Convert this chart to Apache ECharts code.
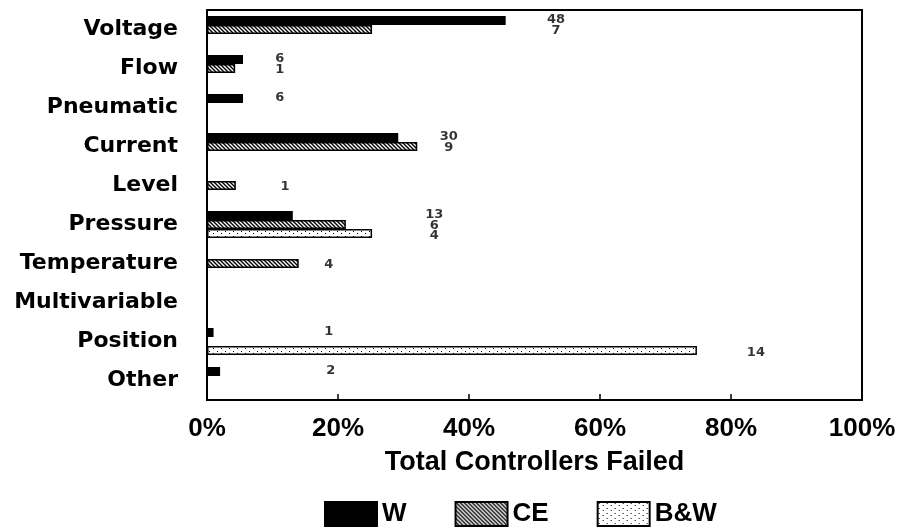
<!DOCTYPE html>
<html>
<head>
<meta charset="utf-8">
<script src="https://cdn.jsdelivr.net/npm/echarts@6/dist/echarts.min.js"></script>
<style>
  html, body { margin: 0; padding: 0; background: #fff; }
  #chart { width: 899px; height: 531px; }
</style>
</head>
<body>
<div id="chart"></div>
<script>
// categories (top to bottom)
const categories = ['Voltage', 'Flow', 'Pneumatic', 'Current', 'Level', 'Pressure', 'Temperature', 'Multivariable', 'Position', 'Other']
// % of each vendor's failed controllers
const wValues = [45.6, 5.5, 5.5, 29.2, 0, 13.1, 0, 0, 1.0, 2.0]
const ceValues = [25.2, 4.3, 0, 32.1, 4.4, 21.2, 14.0, 0, 0, 0]
const bwValues = [0, 0, 0, 0, 0, 25.2, 0, 0, 74.8, 0]
// number of controllers failed
const wCounts = [48, 6, 6, 30, null, 13, null, null, 1, 2]
const ceCounts = [7, 1, null, 9, 1, 6, 4, null, null, null]
const bwCounts = [null, null, null, null, null, 4, null, null, 14, null]
const xTicks = [0, 20, 40, 60, 80, 100]

// where the count column sits for each category (axis %)
const countColumnX = [53.3, 11.1, 11.1, 36.9, 11.9, 34.7, 18.6, 0, 18.6, 18.9]

const FONT = 'DejaVu Sans'
const FONT2 = 'Liberation Sans'

// hatch fill for CE
const makeHatch = () => {
  const c = document.createElement('canvas')
  c.width = 4
  c.height = 4
  const ctx = c.getContext('2d')
  ctx.fillStyle = '#fff'
  ctx.fillRect(0, 0, 4, 4)
  ctx.strokeStyle = '#000'
  ctx.lineWidth = 1.4
  ctx.beginPath()
  ctx.moveTo(-1, -1); ctx.lineTo(5, 5)
  ctx.moveTo(-1, 3); ctx.lineTo(1, 5)
  ctx.moveTo(3, -1); ctx.lineTo(5, 1)
  ctx.stroke()
  return c
}
// sparse dots for B&W
const makeDots = () => {
  const c = document.createElement('canvas')
  c.width = 8
  c.height = 5
  const ctx = c.getContext('2d')
  ctx.fillStyle = '#fff'
  ctx.fillRect(0, 0, 8, 5)
  ctx.fillStyle = '#000'
  ctx.fillRect(1, 1, 1, 1)
  ctx.fillRect(5, 3, 1, 1)
  return c
}

const chart = echarts.init(document.getElementById('chart'))

const barSeries = (name, values, fill) => ({
  name,
  type: 'bar',
  data: values,
  barWidth: 9,
  barGap: '0%',
  itemStyle: {
    color: fill,
    borderColor: '#000',
    borderWidth: 1.5
  },
  emphasis: { disabled: true }
})

// counts drawn as text next to the bars
const countSeries = (name, counts, values, dy, useBarEnd) => ({
  name,
  type: 'scatter',
  silent: true,
  symbolSize: 0,
  data: counts
    .map((c, i) => {
      if (c === null) return null
      let x = countColumnX[i]
      if (useBarEnd) x = Math.max(x, values[i] + 9)
      return [x, i, c]
    })
    .filter(Boolean),
  label: {
    show: true,
    position: 'inside',
    offset: [0, dy],
    formatter: (p) => String(p.data[2]),
    color: '#000',
    fontFamily: FONT,
    fontWeight: 'bold',
    fontSize: 13
  }
})

const option = {
  animation: false,
  grid: {
    left: 207,
    right: 37,
    top: 10,
    bottom: 131,
    show: true,
    borderColor: '#000',
    borderWidth: 2,
    outerBoundsMode: 'none'
  },
  legend: {
    data: ['W', 'CE', 'B&W'],
    icon: 'rect',
    left: 319,
    top: 496,
    itemWidth: 52,
    itemHeight: 24,
    itemGap: 48,
    textStyle: { fontFamily: FONT2, fontWeight: 'bold', fontSize: 26, color: '#000' }
  },
  xAxis: {
    type: 'value',
    min: xTicks[0],
    max: xTicks[xTicks.length - 1],
    interval: 20,
    name: 'Total Controllers Failed',
    nameLocation: 'middle',
    nameGap: 49,
    nameTextStyle: { fontFamily: FONT2, fontWeight: 'bold', fontSize: 27, color: '#000' },
    axisLine: { show: true, lineStyle: { color: '#000', width: 2 } },
    axisTick: { show: true, inside: true, length: 6, lineStyle: { color: '#000', width: 1.5 } },
    splitLine: { show: false },
    axisLabel: {
      formatter: '{value}%',
      margin: 16,
      fontFamily: FONT2,
      fontWeight: 'bold',
      fontSize: 26,
      color: '#000'
    }
  },
  yAxis: {
    type: 'category',
    inverse: true,
    data: categories,
    axisLine: { show: true, lineStyle: { color: '#000', width: 2 } },
    axisTick: { show: false },
    axisLabel: {
      margin: 29,
      fontFamily: FONT,
      fontWeight: 'bold',
      fontSize: 22,
      color: '#000'
    }
  },
  series: [
    barSeries('W', wValues, '#000'),
    barSeries('CE', ceValues, { image: makeHatch(), repeat: 'repeat' }),
    barSeries('B&W', bwValues, { image: makeDots(), repeat: 'repeat' }),
    countSeries('W count', wCounts, wValues, -10, false),
    countSeries('CE count', ceCounts, ceValues, 1, false),
    countSeries('B&W count', bwCounts, bwValues, 11, true)
  ]
}

chart.setOption(option)
</script>
</body>
</html>
